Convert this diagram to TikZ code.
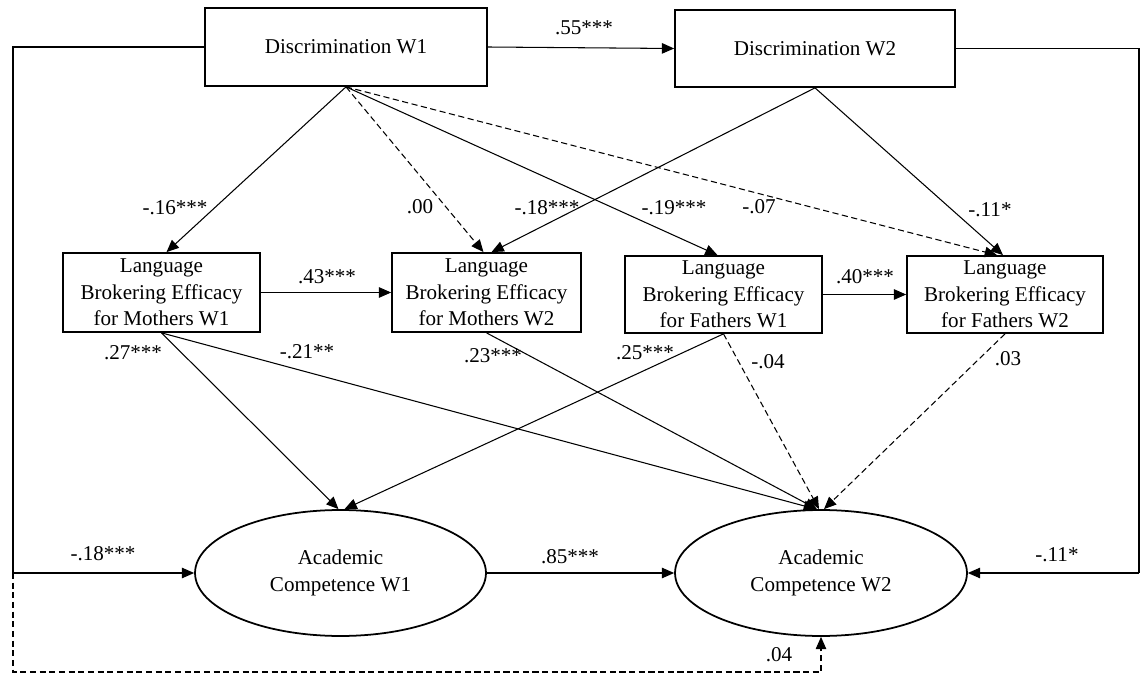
\documentclass[tikz,border=0pt]{standalone}
\usepackage{fontspec}
\setmainfont{Liberation Serif}
\usetikzlibrary{shapes.geometric,arrows.meta}
\begin{document}
\begin{tikzpicture}[x=0.02cm,y=-0.02cm,
  font=\fontsize{12}{15}\selectfont,
  box/.style={draw,line width=1pt,rectangle,inner sep=0pt,align=center},
  oval/.style={draw,line width=1pt,ellipse,inner sep=0pt,align=center},
  conn/.style={line width=0.6pt},
  arr/.style={conn,-{Triangle[length=7pt,width=6pt]}},
  dsh/.style={dash pattern=on 3.5pt off 2pt},
  lbl/.style={inner sep=0pt}]
\useasboundingbox (0,0) rectangle (1143,675);
% nodes
\node[box,minimum width=5.64cm,minimum height=1.56cm] (d1) at (346,47) {Discrimination W1};
\node[box,minimum width=5.6cm,minimum height=1.54cm] (d2) at (815,48.5) {Discrimination W2};
\node[box,minimum width=3.94cm,minimum height=1.58cm] (mw1) at (161.5,292.5) {Language\\Brokering Efficacy\\for Mothers W1};
\node[box,minimum width=3.78cm,minimum height=1.58cm] (mw2) at (486.5,292.5) {Language\\Brokering Efficacy\\for Mothers W2};
\node[box,minimum width=3.94cm,minimum height=1.54cm] (fw1) at (723.5,294.5) {Language\\Brokering Efficacy\\for Fathers W1};
\node[box,minimum width=3.92cm,minimum height=1.54cm] (fw2) at (1005,294.5) {Language\\Brokering Efficacy\\for Fathers W2};
\node[oval,minimum width=5.82cm,minimum height=2.52cm] (ac1) at (340.5,573) {Academic\\Competence W1};
\node[oval,minimum width=5.84cm,minimum height=2.52cm] (ac2) at (821,573) {Academic\\Competence W2};
% frame coordinates
\coordinate (lt) at (13,47);
\coordinate (lm) at (13,573);
\coordinate (lb) at (13,672);
\coordinate (bb) at (821,672);
\coordinate (rt) at (1139,48.5);
\coordinate (rm) at (1139,573);
% connectors
\draw[arr] (d1.east) -- (d2.west);
\draw[arr] (d1.south) -- ([xshift=0.10cm]mw1.north);
\draw[arr,dsh] (d1.south) -- ([xshift=-0.06cm]mw2.north);
\draw[arr] (d1.south) -- ([xshift=-0.12cm]fw1.north);
\draw[arr,dsh] (d1.south) -- ([xshift=-0.16cm]fw2.north);
\draw[arr] (d2.south) -- ([xshift=0.10cm]mw2.north);
\draw[arr] (d2.south) -- ([xshift=-0.04cm]fw2.north);
\draw[arr] (mw1.east) -- (mw2.west);
\draw[arr] (fw1.east) -- (fw2.west);
\draw[arr] (mw1.south) -- ([xshift=-0.04cm]ac1.north);
\draw[arr] (fw1.south) -- ([xshift=0.08cm]ac1.north);
\draw[arr] (mw1.south) -- ([xshift=-0.10cm]ac2.north);
\draw[arr] (mw2.south) -- ([xshift=-0.08cm]ac2.north);
\draw[arr,dsh] (fw1.south) -- ([xshift=-0.04cm]ac2.north);
\draw[arr,dsh] (fw2.south) -- ([xshift=0.06cm]ac2.north);
\draw[arr] (ac1.east) -- (ac2.west);
\draw[conn] (d1.west) -- (lt) -- (lm);
\draw[arr] (lm) -- (ac1.west);
\draw[arr,dsh] (lm) -- (lb) -- (bb) -- (ac2.south);
\draw[conn] (d2.east) -- (rt) -- (rm);
\draw[arr] (rm) -- (ac2.east);
% labels
\node[lbl] (l55) at (584,28) {.55***};
\node[lbl] (l16) at (175,208) {-.16***};
\node[lbl] (l00) at (420,207) {.00};
\node[lbl] (l18a) at (547,208) {-.18***};
\node[lbl] (l19) at (674,208) {-.19***};
\node[lbl] (l07) at (759,207) {-.07};
\node[lbl] (l11a) at (990,210) {-.11*};
\node[lbl] (l43) at (327,277) {.43***};
\node[lbl] (l40) at (865,277) {.40***};
\node[lbl] (l27) at (133,353) {.27***};
\node[lbl] (l21) at (307,352) {-.21**};
\node[lbl] (l23) at (493,356) {.23***};
\node[lbl] (l25) at (645,353) {.25***};
\node[lbl] (l04a) at (768,362) {-.04};
\node[lbl] (l03) at (1008,359) {.03};
\node[lbl] (l18b) at (103,554) {-.18***};
\node[lbl] (l85) at (570,557) {.85***};
\node[lbl] (l11b) at (1057,555) {-.11*};
\node[lbl] (l04b) at (779,655) {.04};
\end{tikzpicture}
\end{document}
